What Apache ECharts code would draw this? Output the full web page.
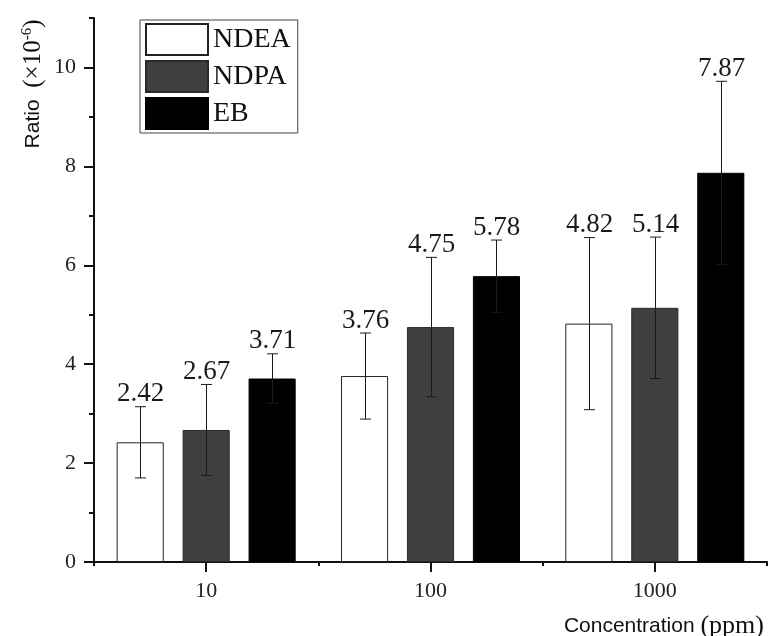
<!DOCTYPE html>
<html>
<head>
<meta charset="utf-8">
<script src="https://cdn.jsdelivr.net/npm/echarts@6/dist/echarts.min.js"></script>
<style>
  html, body { margin: 0; padding: 0; background: #fff; }
  #chart { width: 775px; height: 636px; }
</style>
</head>
<body>
<div id="chart"></div>
<script>
// data
var categories = ['10', '100', '1000'];
var seriesNames = ['NDEA', 'NDPA', 'EB'];
var ndea = [2.42, 3.76, 4.82];
var ndpa = [2.67, 4.75, 5.14];
var eb = [3.71, 5.78, 7.87];
var ndeaErr = [0.72, 0.87, 1.74];
var ndpaErr = [0.92, 1.41, 1.43];
var ebErr = [0.50, 0.73, 1.85];
var yMajorTicks = [0, 2, 4, 6, 8, 10];
var yMinorTicks = [1, 3, 5, 7, 9, 11];

var SERIF = '"Liberation Serif", "Times New Roman", serif';
var SANS = '"Liberation Sans", Arial, sans-serif';
var AXIS = '#111';

// error bar rows: [category, mean, err, series index]
var errData = [];
[ndea, ndpa, eb].forEach(function (vals, s) {
  var errs = [ndeaErr, ndpaErr, ebErr][s];
  vals.forEach(function (v, i) {
    errData.push([i, v, errs[i], s]);
  });
});

// bar width 21% of band, gap 40% of bar -> neighbours sit 1.4 bar widths apart
function renderError(params, api) {
  var cat = api.value(0), v = api.value(1), e = api.value(2), s = api.value(3);
  var band = api.size([1, 0])[0];
  var off = (s - 1) * band * 0.21 * 1.4;
  var top = api.coord([cat, v + e]);
  var bot = api.coord([cat, v - e]);
  var x = Math.round(top[0] + off) + 0.5;
  var cap = 5.5;
  var ls = { stroke: '#1a1a1a', lineWidth: 1 };
  return {
    type: 'group',
    children: [
      { type: 'line', shape: { x1: x, y1: top[1], x2: x, y2: bot[1] }, style: ls },
      { type: 'line', shape: { x1: x - cap, y1: top[1], x2: x + cap, y2: top[1] }, style: ls },
      { type: 'line', shape: { x1: x - cap, y1: bot[1], x2: x + cap, y2: bot[1] }, style: ls },
      {
        type: 'text',
        x: x, y: top[1] + 1,
        style: {
          text: v.toFixed(2),
          align: 'center', verticalAlign: 'bottom',
          fontFamily: SERIF, fontSize: 27, fill: '#1a1a1a'
        }
      }
    ]
  };
}

var chart = echarts.init(document.getElementById('chart'));
var option = {
  backgroundColor: '#fff',
  animation: false,
  grid: { left: 94, right: 8, top: 18, bottom: 74, containLabel: false },
  legend: {
    data: seriesNames,
    orient: 'vertical',
    left: 140, top: 20,
    icon: 'rect',
    itemWidth: 62, itemHeight: 31, itemGap: 4,
    padding: [3, 7, 3, 5],
    borderColor: '#444', borderWidth: 1,
    textStyle: { fontFamily: SERIF, fontSize: 28, color: '#111' }
  },
  xAxis: [
    {
      type: 'category',
      data: categories,
      axisLine: { lineStyle: { color: AXIS, width: 2 } },
      axisTick: { show: true, length: 4, lineStyle: { color: AXIS, width: 2 } },
      axisLabel: { fontFamily: SERIF, fontSize: 22, color: '#222', margin: 18 },
      splitLine: { show: false }
    },
    {
      type: 'category',
      data: categories,
      position: 'bottom',
      axisLine: { show: false },
      axisTick: { show: true, alignWithLabel: true, length: 10, lineStyle: { color: AXIS, width: 2 } },
      axisLabel: { show: false },
      splitLine: { show: false }
    }
  ],
  yAxis: [
    {
      type: 'value',
      min: 0, max: 11, interval: 2,
      axisLine: { show: true, lineStyle: { color: AXIS, width: 2 } },
      axisTick: { show: true, length: 10, customValues: yMajorTicks, lineStyle: { color: AXIS, width: 2 } },
      axisLabel: { customValues: yMajorTicks, fontFamily: SERIF, fontSize: 22, color: '#222', margin: 18 },
      splitLine: { show: false }
    },
    {
      type: 'value',
      min: 0, max: 11,
      position: 'left',
      axisLine: { show: false },
      axisTick: { show: true, length: 5, customValues: yMinorTicks, lineStyle: { color: AXIS, width: 2 } },
      axisLabel: { show: false },
      splitLine: { show: false }
    }
  ],
  series: [
    {
      name: 'NDEA', type: 'bar', data: ndea,
      barWidth: '21%', barGap: '40%',
      itemStyle: { color: '#fff', borderColor: '#222', borderWidth: 1 }
    },
    {
      name: 'NDPA', type: 'bar', data: ndpa,
      barWidth: '21%', barGap: '40%',
      itemStyle: { color: '#404040', borderColor: '#2a2a2a', borderWidth: 1 }
    },
    {
      name: 'EB', type: 'bar', data: eb,
      barWidth: '21%', barGap: '40%',
      itemStyle: { color: '#000', borderColor: '#000', borderWidth: 1 }
    },
    {
      type: 'custom',
      renderItem: renderError,
      data: errData,
      encode: { x: 0, y: 1 },
      z: 5
    }
  ],
  graphic: [
    {
      type: 'text',
      x: 33, y: 84,
      rotation: Math.PI / 2,
      style: {
        text: '{s|Ratio  }{t|(×10}{u|-6}{t|)}',
        align: 'center', verticalAlign: 'middle',
        fill: '#111',
        rich: {
          s: { fontFamily: SANS, fontSize: 21, fill: '#111' },
          t: { fontFamily: SERIF, fontSize: 25, fill: '#111' },
          u: { fontFamily: SERIF, fontSize: 15, fill: '#111', padding: [0, 0, 12, 0] }
        }
      }
    },
    {
      type: 'text',
      x: 764, y: 626,
      style: {
        text: '{s|Concentration }{t|(ppm)}',
        align: 'right', verticalAlign: 'middle',
        fill: '#111',
        rich: {
          s: { fontFamily: SANS, fontSize: 21, fill: '#111' },
          t: { fontFamily: SERIF, fontSize: 26, fill: '#111' }
        }
      }
    }
  ]
};
chart.setOption(option);
</script>
</body>
</html>
